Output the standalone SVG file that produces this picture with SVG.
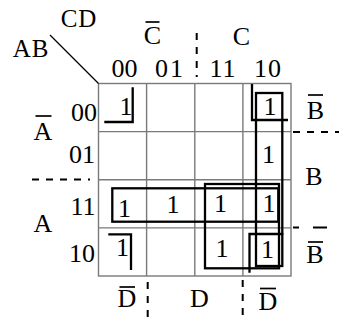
<svg xmlns="http://www.w3.org/2000/svg" width="339" height="322" viewBox="0 0 339 322">
<style>
text{font-family:"Liberation Serif","Times New Roman",serif;font-size:26px;fill:#000;text-anchor:middle}
.grid{stroke:#7a7a7a;stroke-width:1.4;fill:none}
.loop{stroke:#000;stroke-width:2.3;fill:none}
.bar{stroke:#000;stroke-width:1.7}
.dash{stroke:#000;stroke-width:2;stroke-dasharray:7 7;fill:none}
</style>
<rect width="339" height="322" fill="#fff"/>
<g id="grid">
<rect class="grid" x="98.5" y="83.5" width="192.5" height="192.5"/>
<path class="grid" d="M146.6 83.5V276M194.8 83.5V276M242.9 83.5V276M98.5 131.6H291M98.5 179.8H291M98.5 227.9H291"/>
<line x1="50" y1="35" x2="98.5" y2="83.5" stroke="#000" stroke-width="1.2"/>
</g>
<g id="labels">
<text x="79" y="27" style="letter-spacing:1px;font-size:25px">CD</text>
<text x="31" y="57" style="letter-spacing:1px;font-size:25px">AB</text>
<text x="124.5" y="76.5">00</text>
<text x="170" y="76.5" style="letter-spacing:2px">01</text>
<text x="223" y="76.5" style="letter-spacing:1px">11</text>
<text x="268" y="76.5" style="letter-spacing:1px">10</text>
<text x="152.5" y="44">C</text>
<line class="bar" x1="145.5" y1="22" x2="159.5" y2="22"/>
<text x="241.5" y="45">C</text>
<text x="84" y="121">00</text>
<text x="82" y="163">01</text>
<text x="83" y="215">11</text>
<text x="82" y="262">10</text>
<text x="43" y="140">A</text>
<line class="bar" x1="35.5" y1="116" x2="51.5" y2="116"/>
<text x="43" y="232">A</text>
<text x="315.5" y="119">B</text>
<line class="bar" x1="308" y1="95" x2="323" y2="95"/>
<text x="314" y="185">B</text>
<text x="315" y="263">B</text>
<line class="bar" x1="308" y1="242" x2="323" y2="242"/>
<text x="127" y="307">D</text>
<line class="bar" x1="119.5" y1="287" x2="135" y2="287"/>
<text x="199.5" y="307">D</text>
<text x="268" y="310">D</text>
<line class="bar" x1="260" y1="288.5" x2="276" y2="288.5"/>
</g>
<g id="cells">
<text x="126" y="115">1</text>
<text x="270" y="115">1</text>
<text x="268.5" y="163">1</text>
<text x="124.5" y="217">1</text>
<text x="173" y="213">1</text>
<text x="220.5" y="212">1</text>
<text x="269" y="212">1</text>
<text x="222" y="257">1</text>
<text x="267.5" y="258">1</text>
<text x="122.5" y="256">1</text>
</g>
<g id="connectors">
<path class="loop" d="M132.7 87.3V122H104.3"/>
<path class="loop" d="M252 84V120H288"/>
<path class="loop" d="M108.3 234.3H131V270"/>
<path class="loop" d="M283.3 234H249.5V272.7"/>
<rect class="loop" x="112.3" y="188.3" width="166" height="33.4"/>
<rect class="loop" x="205" y="184" width="74" height="84.3"/>
<rect class="loop" x="256" y="93" width="26.3" height="173"/>
<path class="dash" d="M32 179.5H90"/>
<path class="dash" d="M196.7 33V77"/>
<path class="dash" d="M293 132H339"/>
<path class="dash" d="M293 227.5H299M313 227.5H327" style="stroke-dasharray:none"/>
<path class="dash" d="M147.7 282V322"/>
<path class="dash" d="M242.7 280V322"/>
</g>
</svg>
